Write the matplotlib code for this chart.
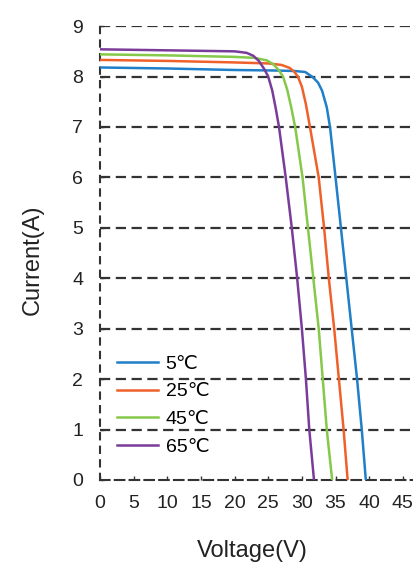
import matplotlib.pyplot as plt

plt.rcParams['font.family'] = ['Liberation Sans', 'DejaVu Sans']

# I-V curves, one per cell temperature
labels = ["5℃", "25℃", "45℃", "65℃"]
colors = ["#1f7fc8", "#f0602a", "#86c84a", "#7a3c9a"]

v_5 = [0, 10, 20, 26, 29, 30.5, 31.6, 32.4, 33.0, 33.7, 34.2, 35.0, 35.8, 36.6, 37.4, 38.2, 38.9, 39.5]
i_5 = [8.18, 8.16, 8.13, 8.12, 8.11, 8.09, 7.99, 7.88, 7.72, 7.39, 6.98, 6.0, 5.0, 4.0, 3.0, 2.0, 1.0, 0]

v_25 = [0, 10, 20, 25, 27, 28.2, 28.9, 29.4, 30.0, 30.6, 31.2, 32.5, 33.3, 34.0, 34.8, 35.5, 36.2, 36.8]
i_25 = [8.33, 8.31, 8.28, 8.26, 8.23, 8.17, 8.09, 8.0, 7.8, 7.45, 7.0, 6.0, 5.0, 4.0, 3.0, 2.0, 1.0, 0]

v_45 = [0, 10, 20, 23, 24.8, 25.8, 26.6, 27.2, 27.8, 28.4, 29.0, 30.1, 30.9, 31.7, 32.5, 33.1, 33.7, 34.5]
i_45 = [8.44, 8.42, 8.39, 8.37, 8.32, 8.24, 8.12, 8.0, 7.75, 7.4, 7.0, 6.0, 5.0, 4.0, 3.0, 2.0, 1.0, 0]

v_65 = [0, 10, 20, 21.8, 22.8, 23.6, 24.4, 25.0, 25.6, 26.1, 26.6, 27.6, 28.5, 29.3, 30.0, 30.6, 31.1, 31.8]
i_65 = [8.54, 8.52, 8.5, 8.47, 8.41, 8.31, 8.15, 8.0, 7.72, 7.38, 7.0, 6.0, 5.0, 4.0, 3.0, 2.0, 1.0, 0]

volts = [v_5, v_25, v_45, v_65]
amps = [i_5, i_25, i_45, i_65]

x_ticks = [0, 5, 10, 15, 20, 25, 30, 35, 40, 45]
y_ticks = [0, 1, 2, 3, 4, 5, 6, 7, 8, 9]

fig = plt.figure(figsize=(4.14, 5.68), dpi=100)
ax = fig.add_axes([0.2415, 0.155, 0.7585, 0.799])

for y in y_ticks[1:]:
    ax.axhline(y, color="#333333", lw=1.6, ls=(0, (4.6, 2.5)), zorder=1)

for v, i, c, lab in zip(volts, amps, colors, labels):
    ax.plot(v, i, color=c, lw=1.8, label=lab, zorder=3, solid_joinstyle="round")

ax.set_xlim(0, 46.66)
ax.set_ylim(0, 9)
ax.set_xticks(x_ticks)
ax.set_yticks(y_ticks)

for s in ["top", "right"]:
    ax.spines[s].set_visible(False)
ax.spines["left"].set_linestyle((0, (3, 3.5)))
ax.spines["bottom"].set_linestyle((0, (4.6, 2.5)))
for s in ["left", "bottom"]:
    ax.spines[s].set_color("#333333")
    ax.spines[s].set_linewidth(1.5)

ax.tick_params(axis="both", labelsize=14, length=3, width=1, color="#333333",
               direction="in", labelcolor="#222222")
ax.tick_params(axis="y", pad=12)
ax.tick_params(axis="x", pad=11)

ax.set_xlabel("Voltage(V)", fontsize=17, color="#222222")
ax.set_ylabel("Current(A)", fontsize=17, color="#222222")
ax.xaxis.set_label_coords(0.484, -0.132)
ax.yaxis.set_label_coords(-0.18, 0.485)

ax.legend(loc="upper left", bbox_to_anchor=(0.054, 0.275), frameon=False,
          fontsize=14, handlelength=2.1, labelspacing=0.52, borderpad=0,
          borderaxespad=0, handletextpad=0.4)

fig.savefig("out.png", dpi=100)
